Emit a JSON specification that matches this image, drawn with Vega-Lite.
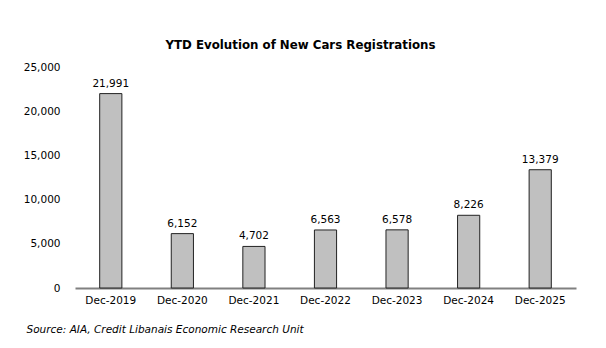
{
  "$schema": "https://vega.github.io/schema/vega-lite/v6.json",
  "autosize": {"type": "none"},
  "padding": {"left": 75, "top": 67, "right": 30, "bottom": 60},
  "width": 501,
  "height": 221,
  "background": "white",
  "title": {
    "text": "YTD Evolution of New Cars Registrations",
    "font": "DejaVu Sans",
    "fontSize": 11.8,
    "fontWeight": "bold",
    "color": "#000000",
    "anchor": "middle",
    "dx": -25,
    "offset": 10
  },
  "data": {
    "values": [
      {"period": "Dec-2019", "value": 21991},
      {"period": "Dec-2020", "value": 6152},
      {"period": "Dec-2021", "value": 4702},
      {"period": "Dec-2022", "value": 6563},
      {"period": "Dec-2023", "value": 6578},
      {"period": "Dec-2024", "value": 8226},
      {"period": "Dec-2025", "value": 13379}
    ]
  },
  "config": {
    "view": {"stroke": null},
    "font": "DejaVu Sans"
  },
  "encoding": {
    "x": {
      "field": "period",
      "type": "nominal",
      "sort": null,
      "scale": {"paddingInner": 0.69, "paddingOuter": 0.345},
      "axis": {
        "title": "Source: AIA, Credit Libanais Economic Research Unit",
        "titleAnchor": "start",
        "titleAlign": "left",
        "titleX": -49,
        "titleY": 36,
        "titleFont": "DejaVu Sans",
        "titleFontSize": 10.5,
        "titleFontStyle": "italic",
        "titleFontWeight": "normal",
        "titleColor": "#000000",
        "labelAngle": 0,
        "labelFont": "DejaVu Sans",
        "labelFontSize": 10.5,
        "labelColor": "#000000",
        "labelPadding": 7,
        "ticks": false,
        "domainColor": "#808080",
        "domainWidth": 2
      }
    },
    "y": {
      "field": "value",
      "type": "quantitative",
      "scale": {"domain": [0, 25000]},
      "axis": {
        "title": null,
        "values": [0, 5000, 10000, 15000, 20000, 25000],
        "format": ",.0f",
        "grid": false,
        "domain": false,
        "ticks": false,
        "labelFont": "DejaVu Sans",
        "labelFontSize": 10.5,
        "labelColor": "#000000",
        "labelPadding": 15
      }
    }
  },
  "layer": [
    {
      "mark": {"type": "bar", "fill": "#c0c0c0", "stroke": "#222222", "strokeWidth": 1}
    },
    {
      "mark": {"type": "text", "baseline": "bottom", "dy": -5, "font": "DejaVu Sans", "fontSize": 10.5, "color": "#000000"},
      "encoding": {
        "text": {"field": "value", "type": "quantitative", "format": ",.0f"}
      }
    }
  ]
}
